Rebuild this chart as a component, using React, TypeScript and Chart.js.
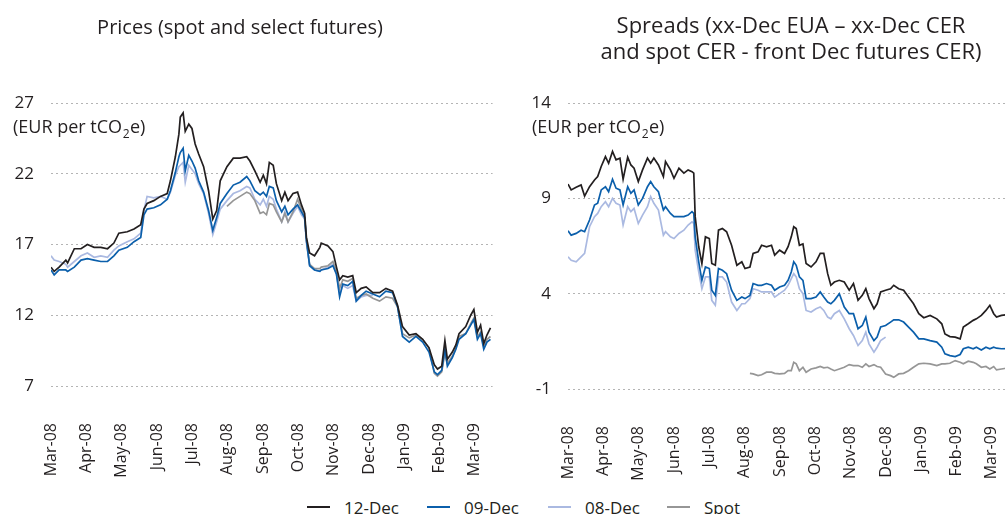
import React, { useEffect, useRef } from "react";
import { Chart, registerables } from "chart.js";

Chart.register(...registerables);

const monthLabels = ["Mar-08", "Apr-08", "May-08", "Jun-08", "Jul-08", "Aug-08", "Sep-08", "Oct-08", "Nov-08", "Dec-08", "Jan-09", "Feb-09", "Mar-09"];
const seriesNames = ["12-Dec", "09-Dec", "08-Dec", "Spot"];
const seriesColors = ["#231f20", "#0b5fab", "#aab9e1", "#969696"];

const priceTitle = ["Prices (spot and select futures)"];
const spreadTitle = ["Spreads (xx-Dec EUA \u2013 xx-Dec CER", "and spot CER - front Dec futures CER)"];
const unitLabel = ["(EUR per tCO", "2", "e)"];

const priceTickValues = [7, 12, 17, 22, 27];
const spreadTickValues = [-1, 4, 9, 14];

// x: months elapsed since the start of March 2008
const priceMonths = [
  0.00, 0.09, 0.23, 0.42, 0.47, 0.66, 0.85, 1.03, 1.22, 1.41,
  1.60, 1.78, 1.92, 2.16, 2.35, 2.54, 2.63, 2.72, 2.91, 3.10,
  3.29, 3.38, 3.52, 3.62, 3.66, 3.74, 3.80, 3.90, 3.99, 4.08,
  4.18, 4.32, 4.46, 4.58, 4.69, 4.79, 4.98, 5.16, 5.35, 5.54,
  5.63, 5.77, 5.92, 6.01, 6.10, 6.18, 6.29, 6.38, 6.53, 6.62,
  6.71, 6.85, 6.98, 7.09, 7.18, 7.23, 7.32, 7.46, 7.61, 7.65,
  7.84, 7.98, 8.08, 8.17, 8.26, 8.40, 8.54, 8.64, 8.78, 8.92,
  9.11, 9.30, 9.48, 9.67, 9.81, 9.95, 10.14, 10.33, 10.52, 10.70,
  10.85, 10.94, 11.06, 11.15, 11.22, 11.36, 11.46, 11.55, 11.74, 11.88,
  11.97, 12.07, 12.16, 12.25, 12.34, 12.44,
];
const price12Dec = [
  15.4, 15.1, 15.4, 15.9, 15.7, 16.7, 16.7, 17.0, 16.8, 16.8,
  16.7, 17.1, 17.8, 17.9, 18.1, 18.4, 19.5, 19.9, 20.1, 20.4,
  20.6, 21.5, 23.2, 24.8, 26.0, 26.3, 25.0, 25.5, 25.2, 24.1,
  23.4, 22.5, 20.8, 18.8, 19.4, 21.5, 22.5, 23.1, 23.1, 23.2,
  22.9, 22.2, 21.4, 21.9, 21.3, 22.8, 22.6, 21.3, 20.1, 20.7,
  20.1, 20.6, 20.7, 19.8, 19.2, 17.5, 16.4, 16.2, 16.8, 17.1,
  16.9, 16.5, 15.4, 14.5, 14.8, 14.7, 14.8, 13.6, 13.9, 14.0,
  13.6, 13.6, 13.9, 13.7, 12.7, 11.2, 10.6, 10.7, 10.3, 9.7,
  8.5, 8.2, 8.4, 10.2, 8.9, 9.4, 9.9, 10.7, 11.2, 12.0,
  12.4, 10.8, 11.3, 10.0, 10.6, 11.1,
];
const price09Dec = [
  15.2, 14.85, 15.2, 15.2, 15.1, 15.4, 15.9, 16.0, 15.9, 15.8,
  15.8, 16.2, 16.6, 16.8, 17.2, 17.5, 19.1, 19.5, 19.6, 19.8,
  20.2, 20.8, 22.1, 23.2, 23.5, 23.8, 22.2, 23.3, 22.9, 22.4,
  21.5, 20.7, 19.4, 18.0, 18.9, 19.9, 20.6, 21.2, 21.4, 21.8,
  21.5, 20.8, 20.5, 20.7, 20.4, 21.1, 21.0, 20.1, 19.3, 19.7,
  19.1, 19.5, 19.8, 19.3, 18.9, 17.3, 15.5, 15.2, 15.1, 15.2,
  15.3, 15.5, 14.9, 13.3, 14.2, 14.1, 14.4, 13.0, 13.4, 13.7,
  13.5, 13.3, 13.7, 13.6, 12.6, 10.5, 10.1, 10.5, 10.1, 9.4,
  8.0, 7.8, 8.1, 9.6, 8.4, 9.0, 9.6, 10.3, 10.7, 11.3,
  11.7, 10.3, 10.7, 9.6, 10.1, 10.3,
];
const price08Dec = [
  16.2, 15.9, 15.8, 15.6, 15.4, 15.8, 16.2, 16.4, 16.1, 16.2,
  16.1, 16.6, 16.9, 17.2, 17.4, 17.8, 19.4, 20.4, 20.3, 20.4,
  20.2, 20.7, 21.9, 22.5, 22.6, 22.8, 21.4, 22.6, 22.3, 22.0,
  21.3, 20.6, 19.2, 17.7, 18.6, 19.5, 20.1, 20.6, 20.8, 21.1,
  21.0, 20.2, 19.8, 20.2, 19.7, 20.4, 20.2, 19.5, 18.6, 19.3,
  18.6, 19.2, 19.7, 19.1, 18.8, 17.1, 15.6, 15.2, 15.1, 15.2,
  15.4, 15.6, 14.9, 13.5, 14.1, 13.9, 14.1, 13.0, 13.3, 13.4,
  13.4,
];
const priceSpot = [
  null, null, null, null, null, null, null, null, null, null,
  null, null, null, null, null, null, null, null, null, null,
  null, null, null, null, null, null, null, null, null, null,
  null, null, null, null, null, null, 19.7, 20.1, 20.4, 20.7,
  20.6, 20.1, 19.2, 19.3, 19.1, 19.9, 19.8, 19.3, 18.6, 19.2,
  18.6, 19.3, 20.2, 19.5, 18.9, 17.3, 15.6, 15.3, 15.3, 15.4,
  15.5, 15.8, 15.1, 13.9, 14.5, 14.4, 14.6, 13.2, 13.4, 13.5,
  13.2, 13.0, 13.3, 13.2, 12.6, 10.7, 10.4, 10.6, 10.3, 9.7,
  7.9, 7.7, 8.0, 9.3, 8.6, 9.1, 9.7, 10.5, 10.7, 11.4,
  11.8, 10.5, 10.8, 9.8, 10.3, 10.5,
];

const spreadMonths = [
  0.00, 0.09, 0.23, 0.37, 0.47, 0.61, 0.75, 0.84, 0.94, 1.06,
  1.15, 1.26, 1.36, 1.47, 1.56, 1.69, 1.78, 1.87, 1.99, 2.11,
  2.25, 2.34, 2.43, 2.56, 2.70, 2.76, 2.90, 3.00, 3.14, 3.28,
  3.40, 3.51, 3.56, 3.60, 3.70, 3.79, 3.89, 4.00, 4.07, 4.17,
  4.26, 4.37, 4.49, 4.63, 4.78, 4.92, 5.01, 5.15, 5.24, 5.38,
  5.48, 5.62, 5.76, 5.85, 5.99, 6.13, 6.23, 6.32, 6.39, 6.46,
  6.55, 6.65, 6.74, 6.88, 7.02, 7.14, 7.24, 7.35, 7.44, 7.54,
  7.68, 7.82, 7.96, 8.08, 8.21, 8.33, 8.43, 8.52, 8.66, 8.75,
  8.85, 8.99, 9.13, 9.22, 9.36, 9.50, 9.64, 9.78, 9.93, 10.07,
  10.25, 10.44, 10.58, 10.67, 10.81, 10.96, 11.10, 11.19, 11.33, 11.47,
  11.56, 11.70, 11.83, 11.94, 12.05, 12.13, 12.27, 12.44,
];
const spread12Dec = [
  9.75, 9.44, 9.58, 9.70, 9.12, 9.61, 9.96, 10.14, 10.67, 11.19,
  10.84, 11.46, 11.02, 11.11, 10.0, 11.16, 10.75, 10.58, 9.88, 10.49,
  11.11, 10.84, 11.11, 10.75, 10.14, 10.93, 10.49, 10.05, 10.58, 10.32,
  10.49, 10.40, 10.32, 8.04, 6.46, 5.58, 6.98, 6.89, 5.58, 5.49,
  7.33, 7.42, 7.25, 6.54, 5.49, 5.67, 5.32, 5.40, 6.11, 6.19,
  6.54, 6.46, 6.54, 6.02, 6.28, 6.11, 6.46, 6.98, 7.51, 7.42,
  6.54, 6.61, 5.58, 5.40, 5.67, 6.11, 6.11, 5.05, 4.44, 4.61,
  4.70, 4.61, 4.18, 4.53, 3.65, 3.91, 4.26, 3.74, 3.21, 3.47,
  4.09, 4.18, 4.26, 4.44, 4.26, 4.18, 3.82, 3.47, 2.95, 2.74,
  2.86, 2.68, 2.42, 1.89, 1.75, 1.72, 1.63, 2.25, 2.42, 2.60,
  2.68, 2.86, 3.12, 3.39, 2.95, 2.77, 2.86, 2.90,
];
const spread09Dec = [
  7.30, 7.07, 7.16, 7.33, 7.25, 7.86, 8.65, 8.74, 9.44, 9.61,
  9.35, 10.0, 9.53, 9.44, 8.65, 9.61, 9.26, 9.44, 8.65, 9.0,
  9.61, 9.88, 9.61, 9.35, 8.39, 8.56, 8.21, 8.04, 8.04, 8.04,
  8.12, 8.30, 8.21, 6.98, 5.67, 4.70, 5.40, 5.32, 4.18, 3.91,
  5.32, 5.23, 5.05, 4.18, 3.65, 3.82, 3.74, 3.91, 4.53, 4.44,
  4.44, 4.53, 4.44, 4.18, 4.35, 4.44, 4.70, 5.14, 5.67, 5.49,
  4.88, 4.70, 3.74, 3.74, 3.82, 4.09, 3.82, 3.56, 3.47, 3.65,
  4.0, 3.30, 2.95, 2.95, 2.16, 2.33, 2.77, 1.98, 1.54, 1.72,
  2.25, 2.33, 2.51, 2.63, 2.63, 2.51, 2.25, 1.98, 1.63, 1.63,
  1.54, 1.46, 1.19, 0.84, 0.75, 0.70, 0.81, 1.11, 1.19, 1.11,
  1.19, 1.05, 1.19, 1.11, 1.19, 1.14, 1.11, 1.12,
];
const spread08Dec = [
  5.93, 5.75, 5.67, 5.93, 6.11, 7.51, 8.04, 8.21, 8.56, 8.82,
  8.56, 9.0, 8.74, 8.65, 7.60, 8.56, 8.30, 8.47, 7.68, 8.12,
  8.56, 9.09, 8.74, 8.39, 7.07, 7.25, 6.98, 6.89, 7.16, 7.33,
  7.60, 7.77, 7.68, 6.28, 5.14, 4.26, 4.88, 4.88, 3.65, 3.39,
  4.88, 4.88, 4.61, 3.56, 3.12, 3.47, 3.47, 3.74, 4.26, 4.18,
  4.09, 4.09, 4.09, 3.82, 4.0, 4.18, 4.44, 4.79, 5.05, 4.88,
  4.26, 4.0, 3.12, 3.04, 3.21, 3.30, 3.12, 2.77, 2.68, 2.95,
  3.12, 2.68, 2.16, 1.81, 1.28, 1.54, 1.98, 1.37, 0.93, 1.19,
  1.54, 1.72,
];
const spreadSpot = [
  null, null, null, null, null, null, null, null, null, null,
  null, null, null, null, null, null, null, null, null, null,
  null, null, null, null, null, null, null, null, null, null,
  null, null, null, null, null, null, null, null, null, null,
  null, null, null, null, null, null, null, -0.18, -0.21, -0.30,
  -0.25, -0.12, -0.12, -0.18, -0.21, -0.18, -0.04, -0.04, 0.40, 0.32,
  -0.04, 0.14, -0.12, 0.05, 0.11, 0.18, 0.11, 0.14, 0.05, -0.04,
  0.05, 0.14, 0.28, 0.23, 0.23, 0.14, 0.32, 0.18, 0.28, 0.18,
  0.14, -0.21, -0.30, -0.39, -0.21, -0.18, -0.04, 0.14, 0.32, 0.35,
  0.32, 0.23, 0.32, 0.32, 0.35, 0.49, 0.40, 0.32, 0.46, 0.40,
  0.32, 0.14, 0.18, 0.05, 0.18, 0.0, 0.05, 0.10,
];

const FONT = '"Open Sans", "Noto Sans", sans-serif';
const TEXT = "#231f20";
// draw order: lower = on top
const drawOrder = [0, 1, 3, 2];
// legend entry left edges (px)
const legendLefts = [307, 427, 548, 667];

function toPoints(xs: number[], ys: (number | null)[]) {
  return xs.map((x, i) => ({ x, y: ys[i] === undefined ? null : ys[i] }));
}

function makeDatasets(xs: number[], series: (number | null)[][]) {
  return series.map((ys, i) => ({
    label: seriesNames[i],
    data: toPoints(xs, ys),
    borderColor: seriesColors[i],
    backgroundColor: seriesColors[i],
    borderWidth: 1.7,
    pointRadius: 0,
    tension: 0,
    spanGaps: false,
    order: drawOrder[i],
  }));
}

function panelTextPlugin(
  titleLines: string[],
  titleSize: number,
  titleX: number,
  titleBaselines: number[],
  unitX: number
) {
  return {
    id: "panelText",
    afterDraw(chart: any) {
      const ctx = chart.ctx;
      ctx.save();
      ctx.fillStyle = TEXT;
      ctx.textBaseline = "alphabetic";
      ctx.textAlign = "center";
      ctx.font = `${titleSize}px ${FONT}`;
      titleLines.forEach((line, i) => ctx.fillText(line, titleX, titleBaselines[i]));
      ctx.textAlign = "left";
      let x = unitX;
      const y = 133;
      ctx.font = `18px ${FONT}`;
      ctx.fillText(unitLabel[0], x, y);
      x += ctx.measureText(unitLabel[0]).width;
      ctx.font = `12px ${FONT}`;
      ctx.fillText(unitLabel[1], x + 0.5, y + 5);
      x += ctx.measureText(unitLabel[1]).width + 1;
      ctx.font = `18px ${FONT}`;
      ctx.fillText(unitLabel[2], x, y);
      ctx.restore();
    },
  };
}

function makeConfig(
  xs: number[],
  series: (number | null)[][],
  yTicks: number[],
  yAxisWidth: number,
  xAxisHeight: number,
  padRight: number,
  plugin: any
): any {
  return {
    type: "line",
    data: { datasets: makeDatasets(xs, series) },
    options: {
      animation: false,
      responsive: false,
      events: [],
      layout: { padding: { top: 103, right: padRight, bottom: 0, left: 0 } },
      plugins: { legend: { display: false }, tooltip: { enabled: false }, title: { display: false } },
      scales: {
        x: {
          type: "linear",
          min: 0,
          max: 12.5,
          grid: { display: false },
          border: { display: false },
          ticks: {
            stepSize: 1,
            includeBounds: false,
            autoSkip: false,
            minRotation: 90,
            maxRotation: 90,
            padding: 29,
            color: TEXT,
            font: { family: FONT, size: 16 },
            callback: (v: number) => (Number.isInteger(v) ? monthLabels[v] ?? "" : ""),
          },
          afterFit: (s: any) => {
            s.height = xAxisHeight;
            s.paddingLeft = 0;
            s.paddingRight = 0;
          },
        },
        y: {
          min: yTicks[0],
          max: yTicks[yTicks.length - 1],
          grid: { color: "#b4b4b4", lineWidth: 1, drawTicks: false },
          border: { display: false, dash: [2, 3] },
          ticks: {
            stepSize: 5,
            padding: 17,
            color: TEXT,
            font: { family: FONT, size: 17 },
          },
          afterFit: (s: any) => {
            s.width = yAxisWidth;
          },
        },
      },
    },
    plugins: [plugin],
  };
}

function ChartCanvas({ config, width, height, left }: { config: any; width: number; height: number; left: number }) {
  const ref = useRef<HTMLCanvasElement | null>(null);
  useEffect(() => {
    if (!ref.current) return;
    const chart = new Chart(ref.current, config);
    return () => chart.destroy();
  }, [config]);
  return (
    <canvas
      ref={ref}
      width={width}
      height={height}
      style={{ position: "absolute", left, top: 0, width, height }}
    />
  );
}

const priceConfig = makeConfig(
  priceMonths,
  [price12Dec, price09Dec, price08Dec, priceSpot],
  priceTickValues,
  51,
  94,
  7.4,
  panelTextPlugin(priceTitle, 20, 240, [34], 13)
);
const spreadConfig = makeConfig(
  spreadMonths,
  [spread12Dec, spread09Dec, spread08Dec, spreadSpot],
  spreadTickValues,
  68,
  91,
  10.4,
  panelTextPlugin(spreadTitle, 22, 291, [32.5, 58.5], 32)
);

export default function App() {
  return (
    <div
      style={{
        position: "fixed",
        left: 0,
        top: 0,
        width: 1005,
        height: 514,
        overflow: "hidden",
        background: "#ffffff",
      }}
    >
      <ChartCanvas config={priceConfig} width={500} height={480} left={0} />
      <ChartCanvas config={spreadConfig} width={520} height={480} left={500} />
      {seriesNames.map((name, i) => (
        <div
          key={name}
          style={{
            position: "absolute",
            left: legendLefts[i],
            top: 496,
            height: 22,
            display: "flex",
            alignItems: "center",
            fontFamily: FONT,
            fontSize: 17,
            color: TEXT,
            whiteSpace: "nowrap",
          }}
        >
          <span
            style={{
              display: "inline-block",
              width: 23,
              height: 2,
              background: seriesColors[i],
              marginRight: 14,
            }}
          />
          <span>{name}</span>
        </div>
      ))}
    </div>
  );
}
